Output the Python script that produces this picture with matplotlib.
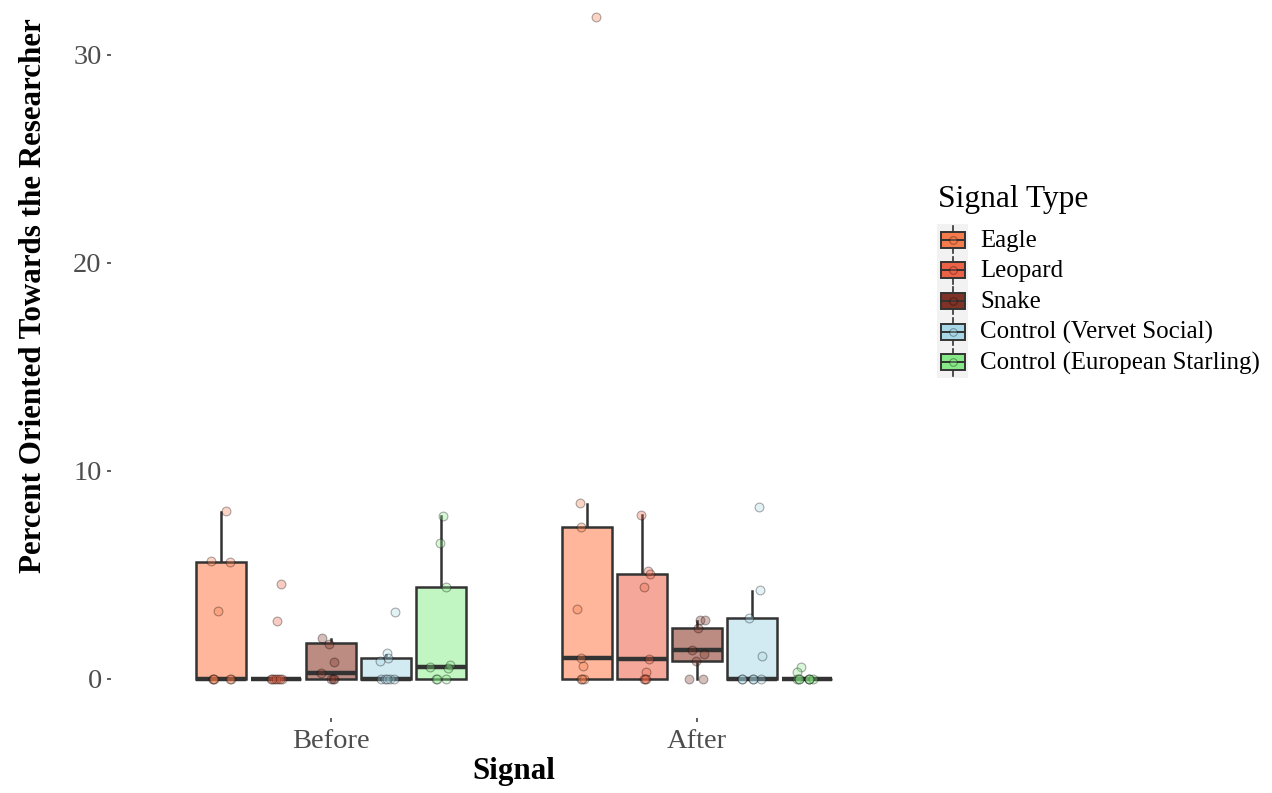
import matplotlib
matplotlib.use("Agg")
import matplotlib.pyplot as plt
from matplotlib.patches import Rectangle
from matplotlib.lines import Line2D

plt.rcParams['font.family'] = ['Liberation Serif', 'DejaVu Serif']

# ---------------- data ----------------
phases = ["Before", "After"]
signal_types = ["Eagle", "Leopard", "Snake",
                "Control (Vervet Social)", "Control (European Starling)"]

box_fill = ["#FFB69B", "#F5A899", "#BC8C82", "#D2EAF1", "#C1F5C1"]
type_colors = ["#F47B4B", "#EC6246", "#7E3326", "#A8D8E8", "#86E886"]

# box statistics (per signal type)
before_q1 = [0.0, 0.0, 0.0, 0.0, 0.0]
before_med = [0.0, 0.0, 0.27, 0.0, 0.55]
before_q3 = [5.59, 0.0, 1.69, 0.97, 4.40]
before_whislo = [0.0, 0.0, 0.0, 0.0, 0.0]
before_whishi = [8.02, 0.0, 1.90, 1.15, 7.80]

after_q1 = [0.0, 0.0, 0.86, 0.0, 0.0]
after_med = [0.97, 0.92, 1.37, 0.0, 0.0]
after_q3 = [7.30, 5.01, 2.41, 2.89, 0.0]
after_whislo = [0.0, 0.0, 0.0, 0.0, 0.0]
after_whishi = [8.40, 7.86, 2.78, 4.22, 0.0]

# jittered observations: values and horizontal jitter (fraction of category step)
before_eagle_vals = [8.05, 5.66, 5.59, 3.25, 0, 0, 0, 0, 0]
before_eagle_jit = [0.013, -0.028, 0.025, -0.010, -0.022, 0.026, -0.023, 0.025, -0.020]
before_leopard_vals = [4.53, 2.75, 0, 0, 0, 0, 0, 0, 0]
before_leopard_jit = [0.013, 0.003, -0.014, -0.005, 0.005, 0.016, -0.011, 0.000, 0.011]
before_snake_vals = [1.93, 1.66, 0.81, 0.26, 0, 0, 0]
before_snake_jit = [-0.025, -0.005, 0.008, -0.028, 0.005, -0.001, 0.007]
before_vervet_vals = [3.18, 1.21, 0.97, 0.84, 0, 0, 0, 0, 0]
before_vervet_jit = [0.025, 0.004, 0.006, -0.016, -0.014, -0.003, 0.011, 0.022, 0.003]
before_starling_vals = [7.83, 6.50, 4.40, 0.55, 0.65, 0.52, 0, 0, 0]
before_starling_jit = [0.005, -0.002, 0.015, -0.029, 0.026, 0.019, -0.014, -0.011, 0.013]

after_eagle_vals = [31.82, 8.45, 7.30, 3.34, 0.97, 0.62, 0, 0, 0]
after_eagle_jit = [0.023, -0.020, -0.018, -0.027, -0.016, -0.011, -0.018, -0.009, -0.014]
after_leopard_vals = [7.86, 5.18, 5.01, 4.38, 0.92, 0.33, 0, 0, 0]
after_leopard_jit = [-0.002, 0.015, 0.022, 0.006, 0.019, 0.010, 0.006, 0.011, 0.008]
after_snake_vals = [2.81, 2.81, 2.41, 1.16, 1.37, 0.86, 0, 0]
after_snake_jit = [0.008, 0.021, 0.004, 0.020, -0.013, -0.003, -0.022, 0.017]
after_vervet_vals = [8.26, 4.25, 2.89, 1.08, 0, 0, 0, 0, 0]
after_vervet_jit = [0.020, 0.023, -0.009, 0.027, -0.026, 0.003, 0.025, 0.003, -0.026]
after_starling_vals = [0.57, 0.33, 0, 0, 0, 0, 0, 0, 0]
after_starling_jit = [-0.016, -0.027, -0.027, -0.020, 0.005, 0.005, 0.017, 0.005, -0.020]

y_ticks = [0, 10, 20, 30]

# ---------------- figure ----------------
W, H = 1272, 793
fig = plt.figure(figsize=(W / 100, H / 100), dpi=100)
fig.patch.set_facecolor("white")

px_left, px_right = 111.4, 916.6
px_bottom, px_top = 717.5, -141.0
ax = fig.add_axes([px_left / W, (H - px_bottom) / H,
                   (px_right - px_left) / W, (px_bottom - px_top) / H])
ax.set_facecolor("white")

dodge = 0.15
box_w = 0.135
edge = "#333333"

stats_by_phase = [
    (before_q1, before_med, before_q3, before_whislo, before_whishi),
    (after_q1, after_med, after_q3, after_whislo, after_whishi),
]
points_by_phase = [
    [(before_eagle_vals, before_eagle_jit), (before_leopard_vals, before_leopard_jit),
     (before_snake_vals, before_snake_jit), (before_vervet_vals, before_vervet_jit),
     (before_starling_vals, before_starling_jit)],
    [(after_eagle_vals, after_eagle_jit), (after_leopard_vals, after_leopard_jit),
     (after_snake_vals, after_snake_jit), (after_vervet_vals, after_vervet_jit),
     (after_starling_vals, after_starling_jit)],
]

for p, phase in enumerate(phases):
    q1s, meds, q3s, los, his = stats_by_phase[p]
    stats, positions = [], []
    for k in range(len(signal_types)):
        stats.append(dict(q1=q1s[k], med=meds[k], q3=q3s[k],
                          whislo=los[k], whishi=his[k], fliers=[]))
        positions.append(p + 1 + (k - 2) * dodge)
    bp = ax.bxp(stats, positions=positions, widths=box_w, patch_artist=True,
                showfliers=False, showcaps=False,
                boxprops=dict(edgecolor=edge, linewidth=1.8),
                whiskerprops=dict(color=edge, linewidth=1.8),
                medianprops=dict(color=edge, linewidth=3.2, solid_capstyle="butt"),
                manage_ticks=False)
    for k, patch in enumerate(bp["boxes"]):
        patch.set_facecolor(box_fill[k])
        patch.set_zorder(2)
    for m in bp["medians"]:
        m.set_zorder(2.5)
    for wl in bp["whiskers"]:
        wl.set_zorder(1.5)
    for k, (vals, jit) in enumerate(points_by_phase[p]):
        xs = [positions[k] + j for j in jit]
        ax.scatter(xs, vals, s=40, facecolor=type_colors[k], edgecolor="black",
                   linewidths=0.8, alpha=0.32, zorder=3)

ax.set_xlim(0.4, 2.6)
ax.set_ylim((px_bottom - 678.5) / -20.8, (678.5 - px_top) / 20.8)
ax.set_xticks([1, 2])
ax.set_xticklabels(phases)
ax.set_yticks(y_ticks)
ax.set_yticklabels([str(t) for t in y_ticks])
for s in ax.spines.values():
    s.set_visible(False)
ax.tick_params(axis="both", colors="#333333", length=3, width=1.1,
               labelsize=20.5, labelcolor="#4D4D4D")
ax.tick_params(axis="y", pad=4.0)
ax.tick_params(axis="x", pad=5.0)

ax.set_xlabel("Signal", fontsize=22.3, fontweight="bold", color="black", va="baseline")
ax.xaxis.set_label_coords(0.5, (px_bottom - 779.3) / (px_bottom - px_top))
ax.set_ylabel("Percent Oriented Towards the Researcher", fontsize=22.3,
              fontweight="bold", color="black", va="baseline")
ax.yaxis.set_label_coords((41 - px_left) / (px_right - px_left),
                          (px_bottom - 295.5) / (px_bottom - px_top))

# ---------------- legend ----------------
lg_x0, lg_x1, lg_y0, lg_y1 = 937.0, 968.0, 224.0, 378.0
lax = fig.add_axes([lg_x0 / W, (H - lg_y1) / H, (lg_x1 - lg_x0) / W, (lg_y1 - lg_y0) / H])
lax.set_xlim(0, lg_x1 - lg_x0)
lax.set_ylim(lg_y1 - lg_y0, 0)
lax.axis("off")
lax.add_patch(Rectangle((0, 0), lg_x1 - lg_x0, lg_y1 - lg_y0, facecolor="#F2F2F2",
                        edgecolor="none", zorder=0))
key_step = 30.7
for k, name in enumerate(signal_types):
    cy = 15.5 + k * key_step
    cx = 15.5
    lax.add_line(Line2D([cx, cx], [cy - 13.5, cy + 13.5], color=edge, lw=1.2, zorder=1))
    lax.add_patch(Rectangle((cx - 12, cy - 8), 24, 16, facecolor=type_colors[k],
                            edgecolor=edge, lw=1.4, zorder=2))
    lax.add_line(Line2D([cx - 12, cx + 12], [cy, cy], color=edge, lw=1.4, zorder=3))
    lax.scatter([cx], [cy], s=30, facecolor=type_colors[k], edgecolor="black",
                linewidths=0.8, alpha=0.32, zorder=4)
    fig.text(980 / W, 1 - (225 + cy) / H, name, fontsize=17.9, color="black",
             ha="left", va="center")

fig.text(938 / W, 1 - 200 / H, "Signal Type", fontsize=22.7, color="black",
         ha="left", va="center")

fig.savefig("out.png", dpi=100)
